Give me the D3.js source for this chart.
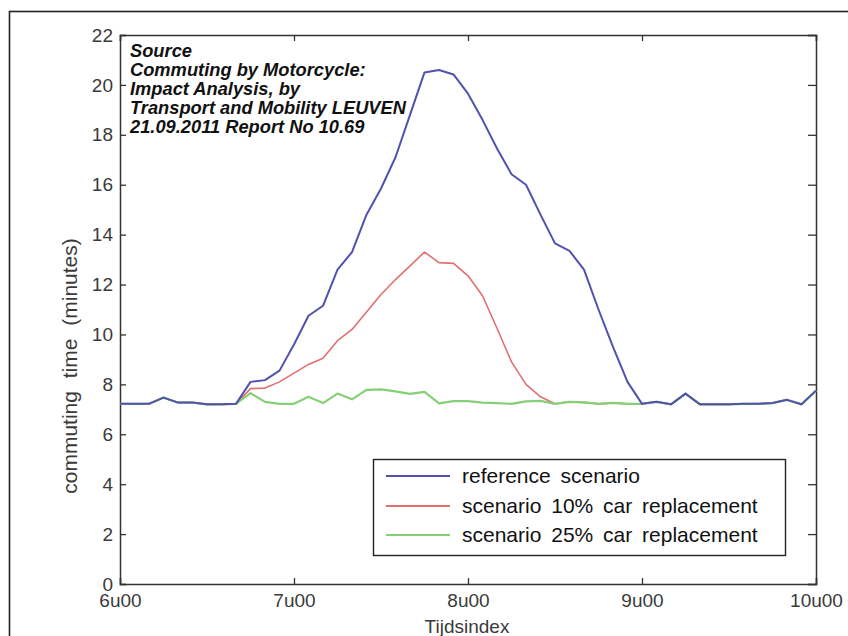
<!DOCTYPE html>
<html>
<head>
<meta charset="utf-8">
<script src="https://cdn.jsdelivr.net/npm/d3@7"></script>
<style>
  html, body { margin: 0; padding: 0; background: #fff; }
  svg { display: block; font-family: "Liberation Sans", Arial, Helvetica, sans-serif; }
</style>
</head>
<body>
<svg id="chart" width="848" height="636"></svg>
<script>
// Minutes after 6u00, one sample every 5 minutes
const minutes = [0,5,10,15,20,25,30,35,40,45,50,55,60,65,70,75,80,85,90,95,100,105,110,115,120,
  125,130,135,140,145,150,155,160,165,170,175,180,185,190,195,200,205,210,215,220,225,230,235,240];

const referenceScenario = [7.22,7.22,7.22,7.47,7.27,7.27,7.2,7.2,7.22,8.1,8.17,8.55,9.6,10.75,11.15,12.6,13.3,14.8,15.85,17.1,18.8,20.5,20.6,20.42,19.65,
  18.6,17.45,16.42,16.0,14.8,13.65,13.35,12.6,11.0,9.5,8.1,7.22,7.3,7.2,7.63,7.2,7.2,7.2,7.22,7.22,7.25,7.38,7.2,7.75];

const scenario10 = [7.22,7.22,7.22,7.47,7.27,7.27,7.2,7.2,7.22,7.83,7.85,8.1,8.45,8.8,9.05,9.75,10.2,10.9,11.6,12.2,12.75,13.3,12.88,12.85,12.35,
  11.55,10.25,8.9,8.0,7.5,7.22,7.3,7.28,7.22,7.26,7.22,7.22,7.3,7.2,7.63,7.2,7.2,7.2,7.22,7.22,7.25,7.38,7.2,7.75];

const scenario25 = [7.22,7.22,7.22,7.47,7.27,7.27,7.2,7.2,7.22,7.65,7.3,7.22,7.22,7.5,7.25,7.63,7.4,7.78,7.8,7.72,7.62,7.7,7.24,7.33,7.33,
  7.27,7.25,7.22,7.32,7.34,7.22,7.3,7.28,7.22,7.26,7.22,7.22,7.3,7.2,7.63,7.2,7.2,7.2,7.22,7.22,7.25,7.38,7.2,7.75];

const xTickValues = [0, 60, 120, 180, 240];
const xTickLabels = ["6u00", "7u00", "8u00", "9u00", "10u00"];
const yTickValues = [0, 2, 4, 6, 8, 10, 12, 14, 16, 18, 20, 22];

const seriesNames = ["reference scenario", "scenario 10% car replacement", "scenario 25% car replacement"];
const seriesColors = ["#5151b0", "#e2706f", "#86cf78"];

const sourceLines = [
  "Source",
  "Commuting by Motorcycle:",
  "Impact Analysis, by",
  "Transport and Mobility LEUVEN",
  "21.09.2011 Report No 10.69"
];

const svg = d3.select("#chart");

// outer frame
svg.append("rect")
  .attr("x", 9.5).attr("y", 11.5)
  .attr("width", 860).attr("height", 660)
  .attr("fill", "none").attr("stroke", "#222").attr("stroke-width", 1.6);

const plotLeft = 120, plotRight = 816, plotTop = 35, plotBottom = 584;

const x = d3.scaleLinear().domain([0, 240]).range([plotLeft, plotRight]);
const y = d3.scaleLinear().domain([0, 22]).range([plotBottom, plotTop]);

const axisColor = "#333";
const labelColor = "#3a3a3a";

// axes with inward ticks on all four sides
const gx = svg.append("g").attr("transform", `translate(0,${plotBottom})`)
  .call(d3.axisBottom(x).tickValues(xTickValues).tickSize(-6).tickPadding(10)
    .tickFormat((d, i) => xTickLabels[i]));
const gxTop = svg.append("g").attr("transform", `translate(0,${plotTop})`)
  .call(d3.axisTop(x).tickValues(xTickValues).tickSize(-6).tickFormat(""));
const gy = svg.append("g").attr("transform", `translate(${plotLeft},0)`)
  .call(d3.axisLeft(y).tickValues(yTickValues).tickSize(-6).tickPadding(7));
const gyRight = svg.append("g").attr("transform", `translate(${plotRight},0)`)
  .call(d3.axisRight(y).tickValues(yTickValues).tickSize(-8).tickFormat(""));

[gx, gxTop, gy, gyRight].forEach(g => {
  g.select(".domain").attr("stroke", axisColor).attr("stroke-width", 1.5);
  g.selectAll(".tick line").attr("stroke", axisColor).attr("stroke-width", 1.3);
  g.selectAll("text").attr("fill", labelColor).attr("font-size", 19)
    .attr("font-family", "'Liberation Sans', Arial, sans-serif");
});

// lines
const line = d3.line().x((d, i) => x(minutes[i])).y(d => y(d));
const drawOrder = [1, 2, 0];
const allSeries = [referenceScenario, scenario10, scenario25];
const widths = [2, 1.6, 2.2];
drawOrder.forEach(k => {
  svg.append("path")
    .datum(allSeries[k])
    .attr("d", line)
    .attr("fill", "none")
    .attr("stroke", seriesColors[k])
    .attr("stroke-width", widths[k])
    .attr("stroke-linejoin", "round");
});

// source annotation
const src = svg.append("text")
  .attr("x", 130).attr("y", 56.5)
  .attr("font-size", 18.3).attr("font-weight", "bold").attr("font-style", "italic")
  .attr("fill", "#111");
sourceLines.forEach((t, i) => {
  src.append("tspan").attr("x", 130).attr("dy", i === 0 ? 0 : 19.2).text(t);
});

// legend
const lg = svg.append("g");
lg.append("rect")
  .attr("x", 373.5).attr("y", 459.5).attr("width", 412).attr("height", 96)
  .attr("fill", "#fff").attr("stroke", "#222").attr("stroke-width", 1.4);
const legendY = [476, 506, 535];
seriesNames.forEach((name, i) => {
  lg.append("line")
    .attr("x1", 386).attr("x2", 450).attr("y1", legendY[i]).attr("y2", legendY[i])
    .attr("stroke", seriesColors[i]).attr("stroke-width", 2);
  lg.append("text")
    .attr("x", 462).attr("y", legendY[i] + 7)
    .attr("font-size", 21).attr("fill", "#111").attr("word-spacing", 4)
    .text(name);
});

// axis titles
svg.append("text")
  .attr("transform", `translate(77,${366}) rotate(-90)`)
  .attr("text-anchor", "middle")
  .attr("font-size", 21).attr("fill", labelColor).attr("word-spacing", 7)
  .text("commuting time (minutes)");

svg.append("text")
  .attr("x", 467).attr("y", 633)
  .attr("text-anchor", "middle")
  .attr("font-size", 19).attr("fill", labelColor)
  .text("Tijdsindex");
</script>
</body>
</html>
